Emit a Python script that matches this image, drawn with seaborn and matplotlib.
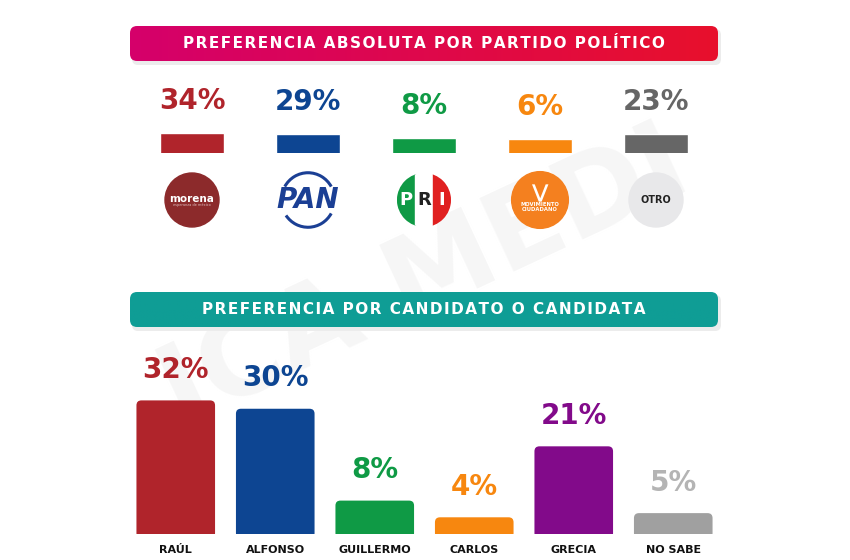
import numpy as np
import pandas as pd
import seaborn as sns
import matplotlib.pyplot as plt
from matplotlib.colors import LinearSegmentedColormap
from matplotlib.patches import FancyBboxPatch, Circle, Arc, Rectangle

# data
partidos = ['MORENA', 'PAN', 'PRI', 'MC', 'OTRO']
partido_pct = [34, 29, 8, 6, 23]
partido_colors = ['#b0242b', '#0d4592', '#0f9a45', '#f7870f', '#666666']

candidatos = ['RAÚL', 'ALFONSO', 'GUILLERMO', 'CARLOS', 'GRECIA', 'NO SABE']
candidato_pct = [32, 30, 8, 4, 21, 5]
candidato_colors = ['#b0242b', '#0d4592', '#0f9a45', '#f7870f', '#820a8a', '#a0a0a0']
candidato_label_colors = ['#b0242b', '#0d4592', '#0f9a45', '#f7870f', '#820a8a', '#b4b4b4']

titulo_1 = 'PREFERENCIA ABSOLUTA POR PARTIDO POLÍTICO'
titulo_2 = 'PREFERENCIA POR CANDIDATO O CANDIDATA'

W, H = 850, 560


def box(x0, y0, x1, y1):
    # pixel box (top-left origin) -> figure rect
    return [x0 / W, 1 - y1 / H, (x1 - x0) / W, (y1 - y0) / H]


sns.set_theme(style='white')
plt.rcParams['font.family'] = ['DejaVu Sans']
fig = plt.figure(figsize=(8.5, 5.6), dpi=100)
fig.patch.set_facecolor('white')

# faint watermark in a background axes
bg = fig.add_axes([0, 0, 1, 1], zorder=-10)
bg.set_axis_off()
bg.text(0.5, 0.5, 'ICA MEDI', fontsize=80, fontweight='bold', color='#f6f6f6',
        rotation=25, ha='center', va='center', transform=bg.transAxes)


def spaced(s):
    return '\u200a'.join(s)


def banner(rect, text, c_left, c_right):
    ax = fig.add_axes(rect)
    ax.set_axis_off()
    grad = np.linspace(0, 1, 256).reshape(1, -1)
    cmap = LinearSegmentedColormap.from_list('g', [c_left, c_right])
    im = ax.imshow(grad, cmap=cmap, aspect='auto', extent=[0, 1, 0, 1])
    clip = FancyBboxPatch((0, 0), 1, 1, boxstyle='round,pad=0,rounding_size=0.012',
                          transform=ax.transAxes, facecolor='none', edgecolor='none',
                          mutation_aspect=17)
    ax.add_patch(clip)
    im.set_clip_path(clip)
    ax.set_xlim(0, 1)
    ax.set_ylim(0, 1)
    ax.text(0.5, 0.5, spaced(text), color='white', fontsize=11, fontweight='bold',
            ha='center', va='center')
    return ax


# shadows under banners
for (x0, y0, x1, y1) in [(132, 29, 721, 65), (132, 295, 721, 331)]:
    sh = fig.add_axes(box(x0, y0, x1, y1))
    sh.set_axis_off()
    sh.add_patch(FancyBboxPatch((0, 0), 1, 1, boxstyle='round,pad=0,rounding_size=0.01',
                                transform=sh.transAxes, facecolor='#ececec',
                                edgecolor='none', mutation_aspect=17))

banner(box(130, 26, 718, 61), titulo_1, '#d5006b', '#e8102c')
banner(box(130, 292, 718, 327), titulo_2, '#0f9d95', '#0f9d95')

# top bars (log scale keeps the short bars visible like the original)
ax1 = fig.add_axes(box(134, 133, 714, 153))
ax1.patch.set_alpha(0)
df1 = pd.DataFrame({'partido': partidos, 'pct': partido_pct})
sns.barplot(data=df1, x='partido', y='pct', hue='partido', palette=partido_colors,
            saturation=1, width=0.56, legend=False, ax=ax1)
ax1.set_yscale('log')
ax1.set_ylim(0.1, 34)
ax1.set_xlim(-0.5, 4.5)
ax1.set_axis_off()
for i, (v, c) in enumerate(zip(partido_pct, partido_colors)):
    ax1.annotate(f'{v}%', (i, v), xytext=(0, 23), textcoords='offset points',
                 ha='center', va='center', fontsize=20, fontweight='bold', color=c,
                 annotation_clip=False)

# logos row
axl = fig.add_axes(box(134, 165, 714, 235))
axl.patch.set_alpha(0)
axl.set_xlim(-0.5, 4.5)
axl.set_ylim(0, 70 / 116)
axl.set_axis_off()
cy = 35 / 116
r = 27 / 116

# morena
axl.add_patch(Circle((0, cy), r, color='#8c2a2b'))
axl.text(0, cy + 0.01, 'morena', color='white', fontsize=7.5, fontweight='bold',
         ha='center', va='center')
axl.text(0, cy - 0.045, 'esperanza de méxico', color='#e0c0c0', fontsize=2.5,
         ha='center', va='center')

# PAN
axl.add_patch(Arc((1.0, cy), 0.46, 0.47, theta1=30, theta2=150, color='#1b3f94', lw=2.2))
axl.add_patch(Arc((1.0, cy), 0.46, 0.47, theta1=215, theta2=330, color='#1b3f94', lw=2.2))
axl.text(1, cy, 'PAN', color='#1b3f94', fontsize=20, fontweight='bold', style='italic',
         ha='center', va='center')

# PRI
pri_clip = Circle((2, cy), r, transform=axl.transData)
for k, col in enumerate(['#0f9a45', 'white', '#e02020']):
    rect = Rectangle((2 - r + k * 2 * r / 3, cy - r), 2 * r / 3, 2 * r, color=col)
    axl.add_patch(rect)
    rect.set_clip_path(pri_clip)
for k, (lt, col) in enumerate(zip('PRI', ['white', '#222222', 'white'])):
    axl.text(2 - 2 * r / 3 + k * 2 * r / 3, cy, lt, color=col, fontsize=13,
             fontweight='bold', ha='center', va='center')

# movimiento ciudadano
axl.add_patch(Circle((3, cy), r * 1.05, color='#f4801f'))
axl.text(3, cy + 0.06, '⋁', color='white', fontsize=14, fontweight='bold',
         ha='center', va='center')
axl.text(3, cy - 0.06, 'MOVIMIENTO\nCIUDADANO', color='white', fontsize=3.8,
         fontweight='bold', ha='center', va='center', linespacing=1.0)

# otro
axl.add_patch(Circle((4, cy), r, color='#e8e8ea'))
axl.text(4, cy, 'OTRO', color='#222222', fontsize=7, fontweight='bold',
         ha='center', va='center')

# bottom bars
ax2 = fig.add_axes(box(126, 367, 723, 534))
ax2.patch.set_alpha(0)
df2 = pd.DataFrame({'candidato': candidatos, 'pct': candidato_pct})
sns.barplot(data=df2, x='candidato', y='pct', hue='candidato', palette=candidato_colors,
            saturation=1, width=0.79, legend=False, ax=ax2)
ax2.set_ylim(0, 40)
ax2.set_xlim(-0.5, 5.5)

# rounded top corners: swap each bar for a rounded box (bottom part is clipped at 0)
aspect = (40 / 167) / (6 / 597)
for bar in list(ax2.patches):
    x0, w, h = bar.get_x(), bar.get_width(), bar.get_height()
    rb = FancyBboxPatch((x0, -1), w, h + 1, boxstyle='round,pad=0,rounding_size=0.05',
                        mutation_aspect=aspect, facecolor=bar.get_facecolor(),
                        edgecolor='none')
    bar.remove()
    ax2.add_patch(rb)

ax2.set_xlabel('')
ax2.set_ylabel('')
ax2.set_yticks([])
for s in ax2.spines.values():
    s.set_visible(False)
ax2.tick_params(axis='x', length=0, pad=8)
for lab in ax2.get_xticklabels():
    lab.set_fontsize(8)
    lab.set_fontweight('bold')
    lab.set_color('#111111')
for i, (v, c) in enumerate(zip(candidato_pct, candidato_label_colors)):
    ax2.annotate(f'{v}%', (i, v), xytext=(0, 22), textcoords='offset points',
                 ha='center', va='center', fontsize=20, fontweight='bold', color=c,
                 annotation_clip=False)

fig.savefig('out.png', dpi=100)
